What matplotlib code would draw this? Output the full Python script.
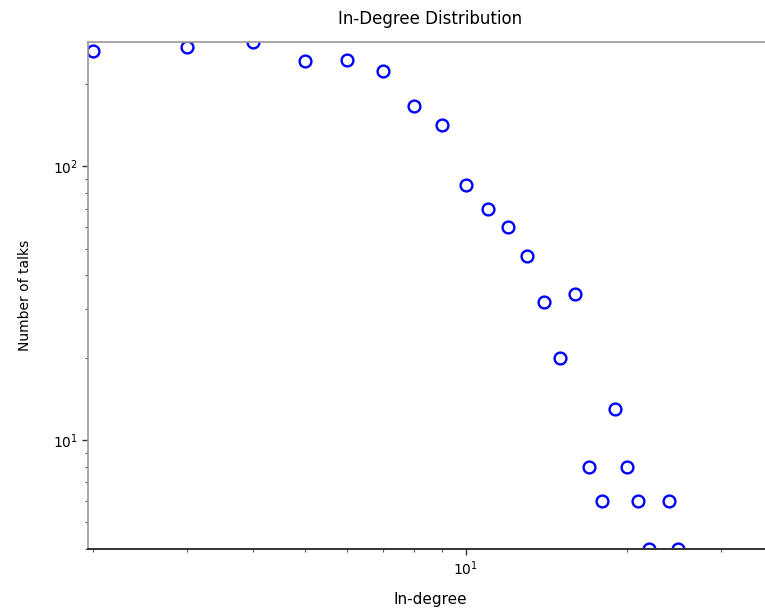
import matplotlib
matplotlib.use("Agg")
import matplotlib.pyplot as plt
import numpy as np

in_degree = [2, 3, 4, 5, 6, 7, 8, 9, 10, 11, 12, 13, 14, 15, 16, 17, 18, 19, 20, 21, 22, 24, 25]
num_talks = [263, 272, 284, 242, 244, 222, 166, 141, 85, 70, 60, 47, 32, 20, 34, 8, 6, 13, 8, 6, 4, 6, 4]

x_lo, x_hi = 1.96, 40
fig = plt.figure(figsize=(7.65, 6.1), dpi=100)
W, H = 765, 610
ax_w_px = 534 * np.log10(x_hi / x_lo)
ax = fig.add_axes([88 / W, (H - 549) / H, ax_w_px / W, (549 - 42) / H])

ax.plot(in_degree, num_talks, linestyle="none", marker="o", markersize=8.5,
        markerfacecolor="none", markeredgecolor="blue", markeredgewidth=1.7)
ax.set_xscale("log")
ax.set_yscale("log")
ax.set_xlim(x_lo, x_hi)
ax.set_ylim(4, 284)

for s in ["top", "left"]:
    ax.spines[s].set_color("#999999")
    ax.spines[s].set_linewidth(1.2)
ax.spines["bottom"].set_color("#333333")
ax.spines["bottom"].set_linewidth(1.4)
ax.spines["right"].set_visible(False)

ax.tick_params(which="major", length=4, width=1, labelsize=10, color="#333333")
ax.tick_params(which="minor", length=2, width=0.8, color="#555555")
ax.tick_params(axis="x", which="both", top=False)
ax.tick_params(axis="y", which="both", right=False)
ax.xaxis.set_minor_formatter(matplotlib.ticker.NullFormatter())
ax.yaxis.set_minor_formatter(matplotlib.ticker.NullFormatter())

ax.set_title("In-Degree Distribution", fontsize=12, pad=13, x=(430 - 88) / ax_w_px)
ax.set_xlabel("In-degree", fontsize=11, labelpad=10, x=(430 - 88) / ax_w_px)
ax.set_ylabel("Number of talks", fontsize=10, labelpad=15)

fig.savefig("out.png", dpi=100)
